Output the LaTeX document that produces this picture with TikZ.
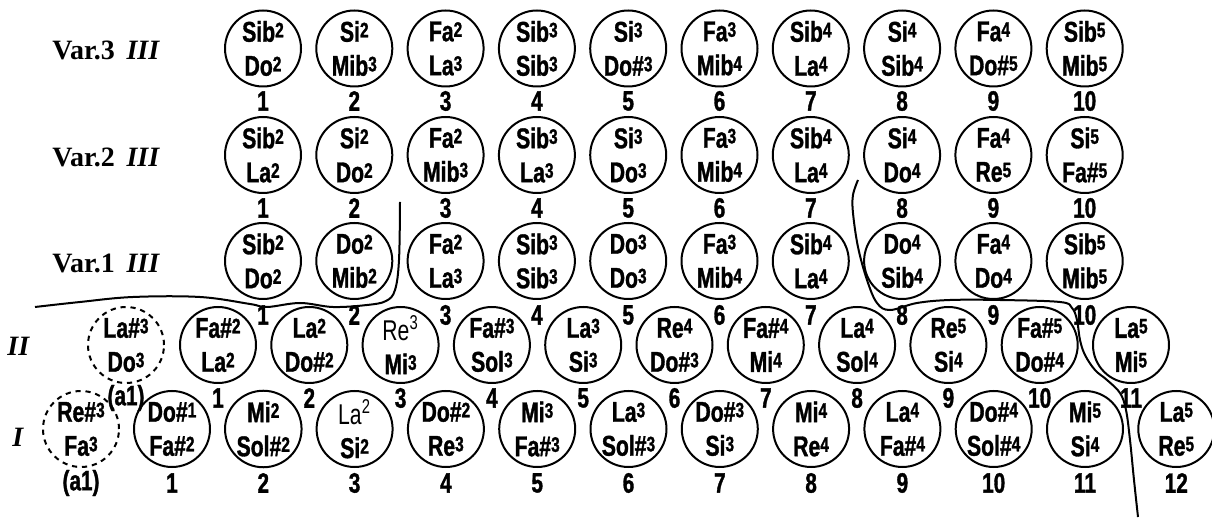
\documentclass[tikz,border=0pt]{standalone}
\usepackage{fontspec}
\setmainfont{Liberation Serif}
\newfontfamily\notefont[FakeStretch=0.74,BoldFeatures={FakeBold=1.2}]{Liberation Sans}
\usetikzlibrary{positioning}

\newcommand\oct[1]{\raisebox{2.2pt}{\fontsize{10.5}{10}\selectfont#1}}
\newcommand\lite[2]{{\mdseries #1\textsuperscript{#2}}}

\begin{document}
\begin{tikzpicture}[x=0.5pt,y=-0.5pt,
    note/.style={circle,draw,line width=1pt,minimum size=38pt,inner sep=0pt,
      align=center,font=\notefont\bfseries\fontsize{14.3}{17}\selectfont},
    dnote/.style={note,dash pattern=on 2.6pt off 2.4pt},
    num/.style={inner sep=0pt,font=\notefont\bfseries\fontsize{14}{14}\selectfont},
    rowlab/.style={anchor=west,inner sep=0pt,font=\bfseries\fontsize{14}{16}\selectfont}]
    \useasboundingbox (0,0) rectangle (1212,518);
    \node[rowlab] (v3) at (52,50) {Var.3\, \textit{III}};
    \node[rowlab] (v2) at (52,157) {Var.2\, \textit{III}};
    \node[rowlab] (v1) at (52,263) {Var.1\, \textit{III}};
    \node[rowlab] (r2) at (7,346) {\textit{II}};
    \node[rowlab] (r1) at (12,437) {\textit{I}};
    \foreach \t [count=\i] in {{Sib\oct2\\Do\oct2},{Si\oct2\\Mib\oct3},{Fa\oct2\\La\oct3},
        {Sib\oct3\\Sib\oct3},{Si\oct3\\Do\#\oct3},{Fa\oct3\\Mib\oct4},{Sib\oct4\\La\oct4},
        {Si\oct4\\Sib\oct4},{Fa\oct4\\Do\#\oct5},{Sib\oct5\\Mib\oct5}}{
      \pgfmathsetmacro\x{263+91.3*(\i-1)}
      \node[note] (v3-\i) at (\x,48.5) {\t};
      \node[num] (v3-\i n) at (\x,101) {\i};
    }
    \foreach \t [count=\i] in {{Sib\oct2\\La\oct2},{Si\oct2\\Do\oct2},{Fa\oct2\\Mib\oct3},
        {Sib\oct3\\La\oct3},{Si\oct3\\Do\oct3},{Fa\oct3\\Mib\oct4},{Sib\oct4\\La\oct4},
        {Si\oct4\\Do\oct4},{Fa\oct4\\Re\oct5},{Si\oct5\\Fa\#\oct5}}{
      \pgfmathsetmacro\x{263+91.3*(\i-1)}
      \node[note] (v2-\i) at (\x,155) {\t};
      \node[num] (v2-\i n) at (\x,208) {\i};
    }
    \foreach \t [count=\i] in {{Sib\oct2\\Do\oct2},{Do\oct2\\Mib\oct2},{Fa\oct2\\La\oct3},
        {Sib\oct3\\Sib\oct3},{Do\oct3\\Do\oct3},{Fa\oct3\\Mib\oct4},{Sib\oct4\\La\oct4},
        {Do\oct4\\Sib\oct4},{Fa\oct4\\Do\oct4},{Sib\oct5\\Mib\oct5}}{
      \pgfmathsetmacro\x{263+91.3*(\i-1)}
      \node[note] (v1-\i) at (\x,261) {\t};
      \node[num] (v1-\i n) at (\x,315) {\i};
    }
    \node[dnote] (r2-a1) at (126,345) {La\#\oct3\\Do\oct3};
    \node[num] (r2-a1n) at (126,398) {(a1)};
    \foreach \t [count=\i] in {{Fa\#\oct2\\La\oct2},{La\oct2\\Do\#\oct2},{\lite{Re}{3}\\Mi\oct3},
        {Fa\#\oct3\\Sol\oct3},{La\oct3\\Si\oct3},{Re\oct4\\Do\#\oct3},{Fa\#\oct4\\Mi\oct4},
        {La\oct4\\Sol\oct4},{Re\oct5\\Si\oct4},{Fa\#\oct5\\Do\#\oct4},{La\oct5\\Mi\oct5}}{
      \pgfmathsetmacro\x{218+91.3*(\i-1)}
      \node[note] (r2-\i) at (\x,345) {\t};
      \node[num] (r2-\i n) at (\x,398) {\i};
    }
    \node[dnote] (r1-a1) at (81,429) {Re\#\oct3\\Fa\oct3};
    \node[num] (r1-a1n) at (81,483) {(a1)};
    \foreach \t [count=\i] in {{Do\#\oct1\\Fa\#\oct2},{Mi\oct2\\Sol\#\oct2},{\lite{La}{2}\\Si\oct2},
        {Do\#\oct2\\Re\oct3},{Mi\oct3\\Fa\#\oct3},{La\oct3\\Sol\#\oct3},{Do\#\oct3\\Si\oct3},
        {Mi\oct4\\Re\oct4},{La\oct4\\Fa\#\oct4},{Do\#\oct4\\Sol\#\oct4},{Mi\oct5\\Si\oct4},
        {La\oct5\\Re\oct5}}{
      \pgfmathsetmacro\x{172+91.3*(\i-1)}
      \node[note] (r1-\i) at (\x,429) {\t};
      \node[num] (r1-\i n) at (\x,483) {\i};
    }
    \draw[line width=1pt] plot[smooth,tension=0.6] coordinates {(35,307) (80,302) (133,297)
      (200,297) (250,304) (267,307) (300,303) (333,307) (367,305) (386,301) (395,290)
      (399,260) (400,202)};
    \draw[line width=1pt] plot[smooth,tension=0.6] coordinates {(858,180) (853,195)
      (853,213) (858,247) (867,280) (877,303) (890,310) (917,303) (950,300) (1000,300)
      (1060,302) (1072,308) (1077,320) (1080,340) (1085,355) (1095,370) (1107,380)
      (1120,393) (1126,410) (1130,440) (1134,480) (1138,517)};
\end{tikzpicture}
\end{document}
